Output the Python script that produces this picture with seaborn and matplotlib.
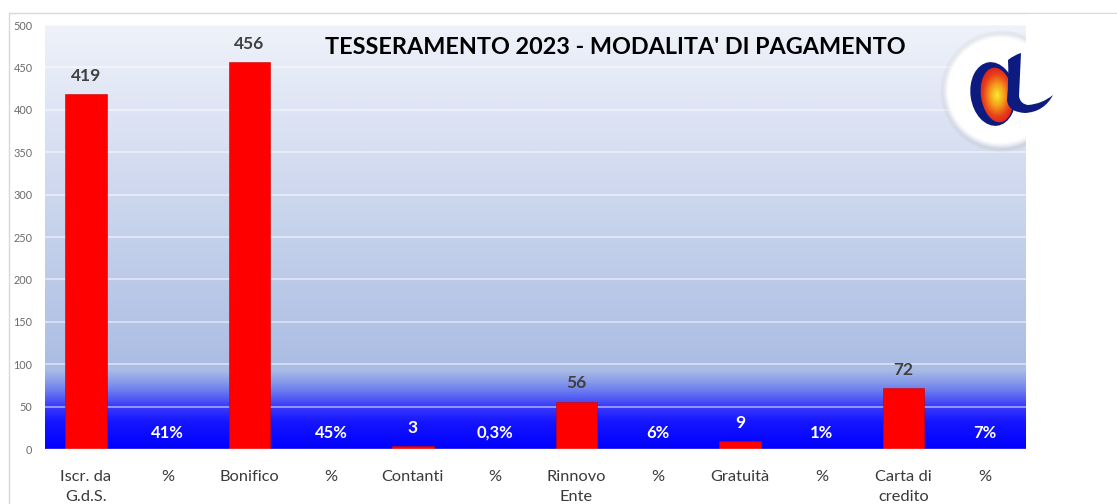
import numpy as np
import pandas as pd
import matplotlib.pyplot as plt
from matplotlib.colors import LinearSegmentedColormap
from matplotlib.patches import Ellipse, Rectangle, PathPatch
from matplotlib.path import Path
import seaborn as sns

sns.set_theme(style="white")
plt.rcParams['font.family'] = ['Lato', 'DejaVu Sans']

# dati
etichette = ["Iscr. da\nG.d.S.", "%", "Bonifico", "%", "Contanti", "%",
             "Rinnovo\nEnte", "%", "Gratuità", "%", "Carta di\ncredito", "%"]
valori = [419, 0, 456, 0, 3, 0, 56, 0, 9, 0, 72, 0]
percentuali = ["41%", "45%", "0,3%", "6%", "1%", "7%"]
yticks = [0, 50, 100, 150, 200, 250, 300, 350, 400, 450, 500]

df = pd.DataFrame({"pos": np.arange(len(valori)), "valore": valori})

fig = plt.figure(figsize=(11.17, 5.04), dpi=100)
ax = fig.add_axes([45 / 1117, 55 / 504, 981 / 1117, 424 / 504])

# sfondo sfumato
cmap = LinearSegmentedColormap.from_list("sfondo", [
    (0.0, "#0000ff"), (0.06, "#1515ff"), (0.10, "#3a3cfb"),
    (0.14, "#7285ee"), (0.185, "#a9bce4"), (0.30, "#b4c4e6"),
    (0.60, "#cdd7ee"), (1.0, "#eff2fa")])
grad = np.linspace(0, 1, 500).reshape(-1, 1)
ax.imshow(grad, aspect="auto", cmap=cmap, origin="lower",
          extent=[-0.5, 11.5, 0, 500], zorder=0)

for t in yticks[1:]:
    ax.axhline(t, color="white", alpha=0.55, lw=1.2, zorder=1)

sns.barplot(data=df, x="pos", y="valore", color="#ff0000", width=0.51,
            saturation=1, ax=ax, zorder=3, edgecolor="#d00000", linewidth=0.4)

ax.set_xlim(-0.5, 11.5)
ax.set_ylim(0, 500)
ax.set_yticks(yticks)
ax.set_yticklabels([str(t) for t in yticks], fontsize=7.8, color="#6b6b6b")
ax.set_xticks(range(len(etichette)))
ax.set_xticklabels(etichette, fontsize=11.8, color="#3a3a3a", linespacing=1.6)
ax.tick_params(axis="x", pad=15, length=0)
ax.tick_params(axis="y", pad=9, length=0)
ax.set_xlabel("")
ax.set_ylabel("")
for s in ax.spines.values():
    s.set_visible(False)
ax.axhline(0, color="#d9d9d9", lw=1, zorder=4)

# etichette valori
for i, v in enumerate(valori):
    if i % 2 == 0:
        col = "white" if v < 30 else "#404040"
        ax.annotate(str(v), (i, v), xytext=(0, 13), textcoords="offset points",
                    ha="center", va="center", fontsize=12.5, fontweight="bold",
                    color=col, zorder=5)
for k, p in enumerate(percentuali):
    ax.text(2 * k + 1, 19, p, ha="center", va="center", fontsize=12,
            fontweight="bold", color="white", zorder=5)

# titolo
fig.text(615 / 1117, 1 - 47 / 504, "TESSERAMENTO 2023 - MODALITA' DI PAGAMENTO",
         ha="center", va="center", fontsize=16.8, fontweight="bold", color="black")

# cornice e logo (coordinate in pixel)
ov = fig.add_axes([0, 0, 1, 1], zorder=10)
ov.set_xlim(0, 1117)
ov.set_ylim(504, 0)
ov.axis("off")
ov.patch.set_alpha(0)
ov.add_patch(Rectangle((9, 13), 1200, 600, fill=False, ec="#d9d9d9", lw=1))

# disco bianco
yy, xx = np.mgrid[0:200, 0:200]
r = np.hypot(xx - 100, yy - 100) / 57.0
glow = np.ones((200, 200, 4))
glow[..., 3] = np.clip((1.03 - r) / 0.12, 0, 1)
ombra = np.zeros((200, 200, 4))
ombra[..., :3] = 0.72
ombra[..., 3] = 0.35 * np.clip(1 - np.abs(r - 1.0) / 0.08, 0, 1)
ov.imshow(ombra, extent=[901, 1101, 191, -9], zorder=1)
ov.imshow(glow, extent=[900, 1100, 190, -10], zorder=1)
ov.add_patch(Rectangle((1026, 14), 100, 504, fc="white", ec="none", zorder=2))

# lettera "a"
ov.add_patch(Ellipse((993, 94), 45, 64, angle=-8, fc="#0d1a80", ec="none", zorder=3))
inner = Ellipse((997, 95), 32, 55, angle=-8, fc="none", ec="none", zorder=4)
ov.add_patch(inner)
yy, xx = np.mgrid[0:100, 0:100]
rr = np.hypot(xx - 50, yy - 50) / 50.0
fuoco = LinearSegmentedColormap.from_list("fuoco", ["#f7ec2c", "#f5a01c", "#e8401a", "#d8161c"])
img = ov.imshow(rr, cmap=fuoco, extent=[978, 1016, 124, 66], zorder=4, vmin=0, vmax=1.1)
img.set_clip_path(inner)
gamba = [(1008, 60), (1014, 55), (1021, 53),
         (1020, 75), (1019, 96),
         (1020, 104), (1028, 105),
         (1042, 104), (1053, 95),
         (1044, 112), (1025, 113),
         (1008, 112), (1007, 100),
         (1009, 78), (1008, 60)]
codici = [Path.MOVETO, Path.CURVE3, Path.CURVE3,
          Path.CURVE3, Path.CURVE3,
          Path.CURVE3, Path.CURVE3,
          Path.CURVE3, Path.CURVE3,
          Path.CURVE3, Path.CURVE3,
          Path.CURVE3, Path.CURVE3,
          Path.CURVE3, Path.CURVE3]
ov.add_patch(PathPatch(Path(gamba, codici), fc="#0d1a80", ec="none", zorder=5))

fig.savefig("out.png", dpi=100)
